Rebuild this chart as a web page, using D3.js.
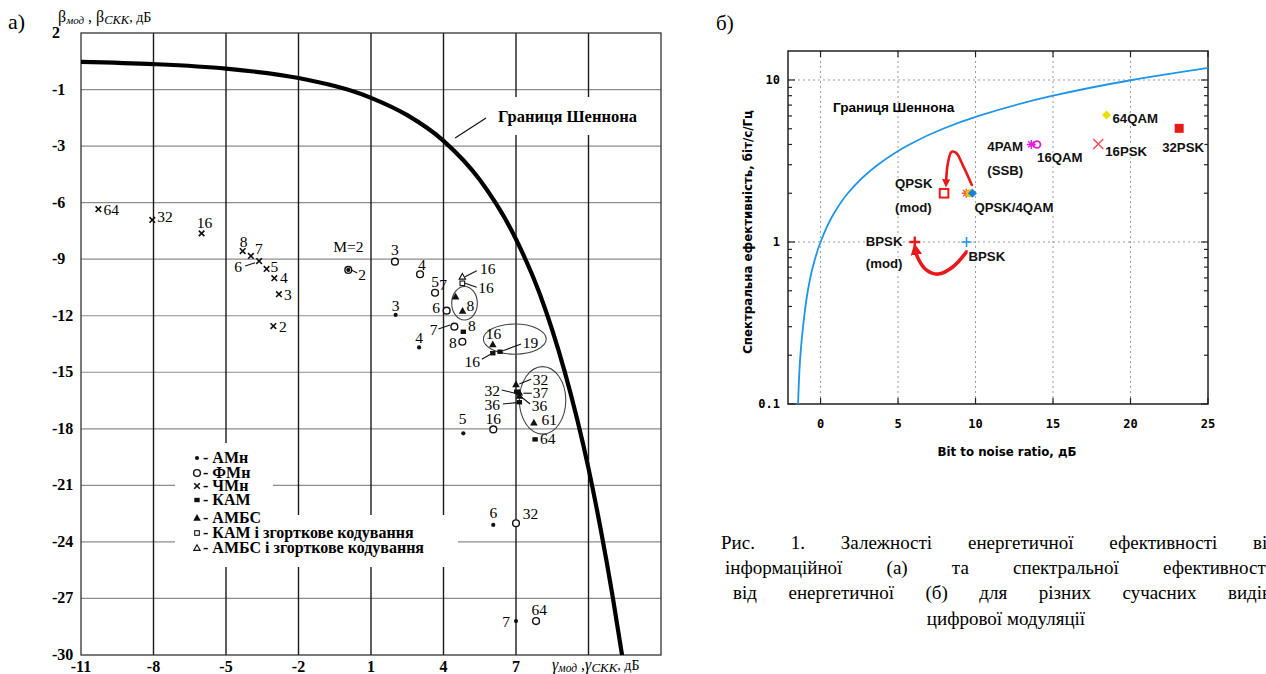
<!DOCTYPE html>
<html>
<head>
<meta charset="utf-8">
<script src="https://cdn.jsdelivr.net/npm/d3@7"></script>
<style>
  body { margin: 0; background: #fff; }
  svg { display: block; font-family: 'Liberation Serif', 'Times New Roman', serif; }
</style>
</head>
<body>
<svg id="chart" width="1266" height="674"></svg>
<script>
// ---------- data: chart а) ----------
const leftXTicks = [-11, -8, -5, -2, 1, 4, 7];
const leftXGrid = [-8, -5, -2, 1, 4, 7, 10];
const leftYTicks = [3, 0, -3, -6, -9, -12, -15, -18, -21, -24, -27, -30];
const leftYLabels = ['2', '-1', '-3', '-6', '-9', '-12', '-15', '-18', '-21', '-24', '-27', '-30'];

// Shannon bound (γ, β in dB)
const shannonGamma = [-11, -8, -5, -2, 1, 2.5, 4, 5.5, 7, 8, 9, 10, 10.5, 11, 11.4];
const shannonBeta = [1.47, 1.35, 1.11, 0.61, -0.44, -1.36, -2.72, -4.79, -7.94, -10.9, -14.9, -20.1, -23.3, -26.9, -30.1];

// АМн
const amnM = [2, 3, 4, 5, 6, 7];
const amnX = [0.06, 2.02, 2.99, 4.82, 6.06, 7.0];
const amnY = [-9.57, -11.96, -13.68, -18.24, -23.1, -28.2];
// ФМн
const fmnM = [2, 3, 4, 5, 6, 7, 8, 16, 32, 64];
const fmnX = [0.06, 1.99, 3.03, 3.65, 4.13, 4.45, 4.78, 6.06, 7.0, 7.83];
const fmnY = [-9.57, -9.13, -9.8, -10.78, -11.73, -12.58, -13.38, -18.03, -23.01, -28.2];
// ЧМн
const chmnM = [64, 32, 16, 8, 7, 6, 5, 4, 3, 2];
const chmnX = [-10.28, -8.05, -6.01, -4.31, -3.97, -3.63, -3.32, -3.0, -2.81, -3.04];
const chmnY = [-6.35, -6.92, -7.63, -8.57, -8.83, -9.1, -9.52, -10.01, -10.86, -12.55];
// КАМ
const kamM = [8, 16, 19, 32, 36, 64];
const kamX = [4.82, 6.04, 6.34, 7.03, 7.14, 7.79];
const kamY = [-12.85, -13.99, -13.91, -16.03, -16.59, -18.56];
// АМБС
const ambsM = [7, 8, 16, 32, 37, 36, 61];
const ambsX = [4.5, 4.79, 6.04, 7.0, 7.14, 7.14, 7.74];
const ambsY = [-10.99, -11.75, -13.52, -15.64, -16.08, -16.26, -17.68];
// КАМ і згорткове кодування
const kamConvM = [16];
const kamConvX = [4.78];
const kamConvY = [-10.28];
// АМБС і згорткове кодування
const ambsConvM = [16];
const ambsConvX = [4.78];
const ambsConvY = [-9.93];

const legendNames = ['АМн', 'ФМн', 'ЧМн', 'КАМ', 'АМБС', 'КАМ і згорткове кодування', 'АМБС і згорткове кодування'];

// ellipses grouping points (centre and half-axes in dB)
const ovalX = [4.87, 6.95, 8.1];
const ovalY = [-11.34, -13.24, -16.49];
const ovalRx = [0.53, 1.3, 0.96];
const ovalRy = [0.89, 0.8, 1.79];

// ---------- data: chart б) ----------
const rightXTicks = [0, 5, 10, 15, 20, 25];
const rightYTicks = [0.1, 1, 10];
const rightYLabels = ['0.1', '1', '10'];

// Shannon bound (Eb/N0 dB, bit/s/Hz)
const capEbN0 = [-1.45, -1.3, -1.13, -0.82, -0.5, 0, 0.86, 1.76, 3.7, 5.74, 7.9, 10.2, 15.0, 20.1, 25.3];
const capEff = [0.1, 0.2, 0.3, 0.5, 0.7, 1, 1.5, 2, 3, 4, 5, 6, 8, 10, 12];

const modNames = ['BPSK', 'BPSK (mod)', 'QPSK (mod)', 'QPSK', '4PSK', '4QAM', '4PAM (SSB)', '16QAM', '16PSK', '64QAM', '32PSK'];
const modEbN0 = [9.42, 6.08, 7.97, 9.4, 9.62, 9.8, 13.6, 13.97, 17.92, 18.45, 23.14];
const modEff = [1, 1, 2, 2, 2, 2, 4, 4, 4.03, 6.08, 5.03];

// red arrows (moving to the modified schemes)
const arrowQpskX = [9.76, 9.2, 8.75, 8.45, 8.2, 8.1];
const arrowQpskY = [2.25, 2.95, 3.55, 3.6, 3.0, 2.3];
const arrowBpskX = [9.42, 8.55, 7.59, 6.84, 6.28, 6.12];
const arrowBpskY = [0.87, 0.704, 0.634, 0.671, 0.797, 0.905];

const captionLines = [
  'Рис. 1. Залежності енергетичної ефективності від',
  'інформаційної (а) та спектральної ефективності',
  'від енергетичної (б) для різних сучасних видів',
  'цифрової модуляції'
];

// ---------- layout ----------
const svg = d3.select('#chart');
svg.append('rect').attr('width', 1266).attr('height', 674).attr('fill', '#fff');

const xL = d3.scaleLinear().domain([-11, 13]).range([81, 661]);
const yL = d3.scaleLinear().domain([-30, 3]).range([655, 33]);

const xR = d3.scaleLinear().domain([-2.1, 25]).range([788, 1208]);
const yR = d3.scaleLog().domain([0.1, 15.1]).range([404, 51]);

// label offsets in px for chart а): [dx, dy, anchor, leader x1, y1, x2, y2]
const labelSpots = {
  amn: [null, [0, -4, 'middle'], [0, -4, 'middle'], [-0.6, -9, 'middle'], [0, -6.7, 'middle'], [-6, 5.7, 'end']],
  fmn: [[10, 10, 'start', 3, 0, 9, 3], [0, -6.7, 'middle'], [1.7, -4.3, 'middle'], [0, -6, 'middle'], [-6.7, 2, 'end'],
        [-17, 8.3, 'end', -16, 2.3, -4.3, -1.7], [-5.6, 6.3, 'end'], [0, -5, 'middle'], [6.7, -4, 'start'], [3.3, -6, 'middle']],
  chmn: [[5, 5.7, 'start'], [5, 1.7, 'start'], [3, -5.3, 'middle'], [1, -4.3, 'middle'], [4, -2, 'start'],
         [-17, 11, 'end', -14, 5, -4, 1.7], [4, 2.7, 'start'], [5.7, 4.7, 'start'], [5, 5.7, 'start'], [5.7, 5.7, 'start']],
  kam: [[4.7, -0.7, 'start'], [-12.7, 13.4, 'end', -11, 6, -2.7, 1.2], [22.7, -4, 'start', 3, -1, 21, -7.7],
        [-16.7, 4.3, 'end', -15, -1.7, -1.7, 1.6], [-19.3, 7.5, 'end', -16.6, 1.7, -2.6, 0.4], [5, 5, 'start']],
  ambs: [[-8.7, -6.7, 'end'], [4, 0, 'start'], [0.6, -5.3, 'middle'], [16.7, 0.3, 'start', 3.3, -0.3, 15, -5],
         [13.4, 5.5, 'start', 4, 0.6, 12.4, 0.6], [12.4, 15, 'start', 0.7, 0, 10.7, 8], [7.7, 2.3, 'start']],
  kamConv: [[16, 10, 'start', 2.7, 0, 14.4, 4]],
  ambsConv: [[17.7, -2.4, 'start', 2.7, 0, 14.4, -6]]
};

function drawMarker(g, type) {
  switch (type) {
    case 'dot':
      g.append('circle').attr('r', 2.1).attr('fill', '#111');
      break;
    case 'ring':
      g.append('circle').attr('r', 3.4).attr('fill', '#fff').attr('stroke', '#111').attr('stroke-width', 1.4);
      break;
    case 'cross':
      g.append('path').attr('d', 'M-2.8,-2.8L2.8,2.8M-2.8,2.8L2.8,-2.8')
        .attr('stroke', '#111').attr('stroke-width', 1.6);
      break;
    case 'square':
      g.append('rect').attr('x', -2.7).attr('y', -2.2).attr('width', 5.4).attr('height', 4.4).attr('fill', '#111');
      break;
    case 'tri':
      g.append('path').attr('d', 'M0,-4L3.8,2.8L-3.8,2.8Z').attr('fill', '#111');
      break;
    case 'sqOpen':
      g.append('rect').attr('x', -2.3).attr('y', -2.3).attr('width', 4.6).attr('height', 4.6)
        .attr('fill', '#fff').attr('stroke', '#111').attr('stroke-width', 1.1);
      break;
    case 'triOpen':
      g.append('path').attr('d', 'M0,-3.3L3.2,2.4L-3.2,2.4Z')
        .attr('fill', '#fff').attr('stroke', '#111').attr('stroke-width', 1.1);
      break;
  }
}

// ================= chart а) =================
const left = svg.append('g');

// grid
left.selectAll('.hgrid').data(leftYTicks.slice(1, -1)).enter().append('line')
  .attr('x1', xL(-11)).attr('x2', xL(13))
  .attr('y1', d => yL(d)).attr('y2', d => yL(d))
  .attr('stroke', '#8c8c8c').attr('stroke-width', 1.2);

left.selectAll('.vgrid').data(leftXGrid).enter().append('line')
  .attr('x1', d => xL(d)).attr('x2', d => xL(d))
  .attr('y1', yL(3)).attr('y2', yL(-30))
  .attr('stroke', '#1a1a1a').attr('stroke-width', 1.4);

// white patches behind the text blocks
left.append('rect').attr('x', 490).attr('y', 97).attr('width', 155).attr('height', 38).attr('fill', '#fff');
left.append('rect').attr('x', 175).attr('y', 443).attr('width', 98).attr('height', 73).attr('fill', '#fff');
left.append('rect').attr('x', 175).attr('y', 515).attr('width', 283).attr('height', 52).attr('fill', '#fff');

left.append('rect')
  .attr('x', xL(-11)).attr('y', yL(3))
  .attr('width', xL(13) - xL(-11)).attr('height', yL(-30) - yL(3))
  .attr('fill', 'none').attr('stroke', '#333').attr('stroke-width', 1.3);

// tick labels
left.selectAll('.ylab').data(leftYTicks).enter().append('text')
  .attr('x', 52).attr('y', d => yL(d) + 5)
  .attr('font-size', 16).attr('font-weight', 'bold')
  .text((d, i) => leftYLabels[i]);

left.selectAll('.xlab').data(leftXTicks).enter().append('text')
  .attr('x', d => xL(d)).attr('y', 672)
  .attr('text-anchor', 'middle')
  .attr('font-size', 16).attr('font-weight', 'bold')
  .text(d => d);

// axis titles
const yTitle = left.append('text').attr('x', 58).attr('y', 22).attr('font-size', 16);
yTitle.append('tspan').text('β');
yTitle.append('tspan').attr('font-size', 11).attr('font-style', 'italic').attr('dy', 2).text('мод');
yTitle.append('tspan').attr('dy', -2).text(' , β');
yTitle.append('tspan').attr('font-size', 12.5).attr('font-style', 'italic').attr('dy', 2).text('СКК');
yTitle.append('tspan').attr('dy', -2).attr('font-size', 14).text(', дБ');

const xTitle = left.append('text').attr('x', 552).attr('y', 670).attr('font-size', 16);
xTitle.append('tspan').attr('font-style', 'italic').text('γ');
xTitle.append('tspan').attr('font-size', 11.5).attr('font-style', 'italic').attr('dy', 2).text('мод');
xTitle.append('tspan').attr('dy', -2).text(' ,');
xTitle.append('tspan').attr('font-style', 'italic').text('γ');
xTitle.append('tspan').attr('font-size', 13).attr('font-style', 'italic').attr('dy', 2).text('СКК');
xTitle.append('tspan').attr('dy', -2).attr('font-size', 14).text(', дБ');

left.append('text').attr('x', 8).attr('y', 29).attr('font-size', 22).text('а)');

// Shannon bound
left.append('clipPath').attr('id', 'clipL').append('rect')
  .attr('x', xL(-11)).attr('y', yL(3))
  .attr('width', xL(13) - xL(-11)).attr('height', yL(-30) - yL(3));

const lineL = d3.line()
  .x(d => xL(d[0]))
  .y(d => yL(d[1]))
  .curve(d3.curveMonotoneX);

left.append('path')
  .datum(d3.zip(shannonGamma, shannonBeta))
  .attr('d', lineL)
  .attr('clip-path', 'url(#clipL)')
  .attr('fill', 'none').attr('stroke', '#000').attr('stroke-width', 4.2);

left.append('line')
  .attr('x1', xL(4.48)).attr('y1', yL(-2.57))
  .attr('x2', xL(5.76)).attr('y2', yL(-1.51))
  .attr('stroke', '#111').attr('stroke-width', 1.2);

left.append('text')
  .attr('x', 498).attr('y', 122)
  .attr('font-size', 16.5).attr('font-weight', 'bold')
  .text('Границя Шеннона');

// group ellipses
left.selectAll('.oval').data(ovalX).enter().append('ellipse')
  .attr('cx', d => xL(d))
  .attr('cy', (d, i) => yL(ovalY[i]))
  .attr('rx', (d, i) => xL(d + ovalRx[i]) - xL(d))
  .attr('ry', (d, i) => yL(ovalY[i] - ovalRy[i]) - yL(ovalY[i]))
  .attr('fill', 'none').attr('stroke', '#444').attr('stroke-width', 1.1);

// point series
const seriesL = [
  { key: 'amn', type: 'dot', m: amnM, x: amnX, y: amnY },
  { key: 'fmn', type: 'ring', m: fmnM, x: fmnX, y: fmnY },
  { key: 'chmn', type: 'cross', m: chmnM, x: chmnX, y: chmnY },
  { key: 'kam', type: 'square', m: kamM, x: kamX, y: kamY },
  { key: 'ambs', type: 'tri', m: ambsM, x: ambsX, y: ambsY },
  { key: 'kamConv', type: 'sqOpen', m: kamConvM, x: kamConvX, y: kamConvY },
  { key: 'ambsConv', type: 'triOpen', m: ambsConvM, x: ambsConvX, y: ambsConvY }
];

// rings first so the filled marks sit on top
const drawOrder = ['fmn', 'amn', 'chmn', 'kam', 'ambs', 'kamConv', 'ambsConv'];
drawOrder.forEach(key => {
  const s = seriesL.find(d => d.key === key);
  s.m.forEach((m, i) => {
    const px = xL(s.x[i]);
    const py = yL(s.y[i]);
    const g = left.append('g').attr('transform', `translate(${px},${py})`);
    drawMarker(g, s.type);
    const spot = labelSpots[key][i];
    if (!spot) return;
    if (spot.length > 3) {
      left.append('line')
        .attr('x1', px + spot[3]).attr('y1', py + spot[4])
        .attr('x2', px + spot[5]).attr('y2', py + spot[6])
        .attr('stroke', '#111').attr('stroke-width', 1.1);
    }
    left.append('text')
      .attr('x', px + spot[0]).attr('y', py + spot[1])
      .attr('text-anchor', spot[2])
      .attr('font-size', 15.5)
      .text(m);
  });
});

left.append('text')
  .attr('x', xL(0.06)).attr('y', yL(-9.57) - 18)
  .attr('text-anchor', 'middle').attr('font-size', 15.5)
  .text('M=2');

// legend
const legendTypes = ['dot', 'ring', 'cross', 'square', 'tri', 'sqOpen', 'triOpen'];
const legendRowY = [458, 473, 486, 500, 518, 533, 548];
legendNames.forEach((name, i) => {
  const g = left.append('g').attr('transform', `translate(197,${legendRowY[i]})`);
  drawMarker(g, legendTypes[i]);
  left.append('text')
    .attr('x', 203).attr('y', legendRowY[i] + 5)
    .attr('font-size', 16).attr('font-weight', 'bold')
    .text('- ' + name);
});

// ================= chart б) =================
const right = svg.append('g')
  .style('font-family', "'Liberation Sans', Arial, sans-serif");

right.append('text')
  .attr('x', 716).attr('y', 30)
  .style('font-family', "'Liberation Serif', serif")
  .attr('font-size', 21).text('б)');

// dotted grid
right.selectAll('.vg').data(rightXTicks.slice(0, -1)).enter().append('line')
  .attr('x1', d => xR(d)).attr('x2', d => xR(d))
  .attr('y1', yR.range()[1]).attr('y2', yR.range()[0])
  .attr('stroke', '#9a9a9a').attr('stroke-width', 1).attr('stroke-dasharray', '2,3');

right.selectAll('.hg').data([1, 10]).enter().append('line')
  .attr('x1', xR.range()[0]).attr('x2', xR.range()[1])
  .attr('y1', d => yR(d)).attr('y2', d => yR(d))
  .attr('stroke', '#9a9a9a').attr('stroke-width', 1).attr('stroke-dasharray', '2,3');

// frame and ticks
right.append('rect')
  .attr('x', xR.range()[0]).attr('y', yR.range()[1])
  .attr('width', xR.range()[1] - xR.range()[0])
  .attr('height', yR.range()[0] - yR.range()[1])
  .attr('fill', 'none').attr('stroke', '#222').attr('stroke-width', 1.5);

const minorY = [0.2, 0.3, 0.4, 0.5, 0.6, 0.7, 0.8, 0.9, 2, 3, 4, 5, 6, 7, 8, 9];
const ticksY = rightYTicks.map(v => ({ v: v, len: 7 }))
  .concat(minorY.map(v => ({ v: v, len: 4 })));

[xR.range()[0], xR.range()[1]].forEach((edge, side) => {
  right.selectAll(null).data(ticksY).enter().append('line')
    .attr('x1', edge).attr('x2', d => edge + (side ? -d.len : d.len))
    .attr('y1', d => yR(d.v)).attr('y2', d => yR(d.v))
    .attr('stroke', '#222').attr('stroke-width', 1.2);
});

[yR.range()[0], yR.range()[1]].forEach((edge, side) => {
  right.selectAll(null).data(rightXTicks).enter().append('line')
    .attr('x1', d => xR(d)).attr('x2', d => xR(d))
    .attr('y1', edge).attr('y2', edge + (side ? 6 : -6))
    .attr('stroke', '#222').attr('stroke-width', 1.2);
});

right.selectAll('.xt').data(rightXTicks).enter().append('text')
  .attr('x', d => xR(d)).attr('y', 428)
  .attr('text-anchor', 'middle')
  .style('font-family', "'DejaVu Sans Mono', monospace")
  .attr('font-size', 12).attr('font-weight', 'bold')
  .text(d => d);

right.selectAll('.yt').data(rightYTicks).enter().append('text')
  .attr('x', 780).attr('y', d => yR(d) + 4)
  .attr('text-anchor', 'end')
  .style('font-family', "'DejaVu Sans Mono', monospace")
  .attr('font-size', 12).attr('font-weight', 'bold')
  .text((d, i) => rightYLabels[i]);

right.append('text')
  .attr('x', 1007).attr('y', 456)
  .attr('text-anchor', 'middle')
  .style('font-family', "'DejaVu Sans', Verdana, sans-serif")
  .attr('font-size', 11.8).attr('font-weight', 'bold')
  .text('Bit to noise ratio, дБ');

right.append('text')
  .attr('transform', 'translate(752,232) rotate(-90)')
  .attr('text-anchor', 'middle')
  .style('font-family', "'DejaVu Sans', Verdana, sans-serif")
  .attr('font-size', 11.8).attr('font-weight', 'bold')
  .text('Спектральна ефективність, біт/с/Гц');

// Shannon bound
right.append('clipPath').attr('id', 'clipR').append('rect')
  .attr('x', xR.range()[0]).attr('y', yR.range()[1])
  .attr('width', xR.range()[1] - xR.range()[0])
  .attr('height', yR.range()[0] - yR.range()[1]);

const lineR = d3.line()
  .x(d => xR(d[0]))
  .y(d => yR(d[1]))
  .curve(d3.curveMonotoneY);

right.append('path')
  .datum(d3.zip(capEbN0, capEff))
  .attr('d', lineR)
  .attr('clip-path', 'url(#clipR)')
  .attr('fill', 'none').attr('stroke', '#1d95e8').attr('stroke-width', 1.8);

// red arrows
svg.append('defs').append('marker')
  .attr('id', 'head')
  .attr('viewBox', '0 0 10 10')
  .attr('refX', 5).attr('refY', 5)
  .attr('markerWidth', 3.2).attr('markerHeight', 3.2)
  .attr('orient', 'auto')
  .append('path').attr('d', 'M0,0L10,5L0,10Z').attr('fill', '#e8191b');

const arrowLine = d3.line()
  .x(d => xR(d[0]))
  .y(d => yR(d[1]))
  .curve(d3.curveCatmullRom);

[[arrowQpskX, arrowQpskY, 2.6], [arrowBpskX, arrowBpskY, 3.6]].forEach(a => {
  right.append('path')
    .datum(d3.zip(a[0], a[1]))
    .attr('d', arrowLine)
    .attr('fill', 'none').attr('stroke', '#e8191b')
    .attr('stroke-width', a[2]).attr('stroke-linecap', 'round')
    .attr('marker-end', 'url(#head)');
});

// modulation points
const modStyle = {
  'BPSK': { shape: 'plus', color: '#1d95e8', r: 5, w: 1.6 },
  'BPSK (mod)': { shape: 'plus', color: '#e8191b', r: 5.5, w: 2.4 },
  'QPSK (mod)': { shape: 'square', color: '#e8191b', r: 4.3, w: 2 },
  'QPSK': { shape: 'star', color: '#f0503a', r: 4.5, w: 1.4 },
  '4PSK': { shape: 'disc', color: '#f2c200', r: 4 },
  '4QAM': { shape: 'diamond', color: '#1d7fe0', r: 4.5 },
  '4PAM (SSB)': { shape: 'star', color: '#e020e0', r: 4.5, w: 1.4 },
  '16QAM': { shape: 'ring', color: '#e020e0', r: 3.4, w: 1.8 },
  '16PSK': { shape: 'x', color: '#f04a4a', r: 5, w: 1.3 },
  '64QAM': { shape: 'diamond', color: '#e8e000', r: 4.5 },
  '32PSK': { shape: 'fill', color: '#e8191b', r: 4.5 }
};

modNames.forEach((name, i) => {
  const st = modStyle[name];
  const g = right.append('g').attr('transform', `translate(${xR(modEbN0[i])},${yR(modEff[i])})`);
  const r = st.r;
  if (st.shape === 'plus') {
    g.append('path').attr('d', `M${-r},0H${r}M0,${-r}V${r}`).attr('stroke', st.color).attr('stroke-width', st.w);
  } else if (st.shape === 'x') {
    g.append('path').attr('d', `M${-r},${-r}L${r},${r}M${-r},${r}L${r},${-r}`).attr('stroke', st.color).attr('stroke-width', st.w);
  } else if (st.shape === 'star') {
    g.append('path').attr('d', `M${-r},0H${r}M0,${-r}V${r}M${-r * 0.7},${-r * 0.7}L${r * 0.7},${r * 0.7}M${-r * 0.7},${r * 0.7}L${r * 0.7},${-r * 0.7}`)
      .attr('stroke', st.color).attr('stroke-width', st.w);
  } else if (st.shape === 'square') {
    g.append('rect').attr('x', -r).attr('y', -r).attr('width', 2 * r).attr('height', 2 * r)
      .attr('fill', 'none').attr('stroke', st.color).attr('stroke-width', st.w);
  } else if (st.shape === 'fill') {
    g.append('rect').attr('x', -r).attr('y', -r).attr('width', 2 * r).attr('height', 2 * r).attr('fill', st.color);
  } else if (st.shape === 'disc') {
    g.append('circle').attr('r', r).attr('fill', st.color);
  } else if (st.shape === 'ring') {
    g.append('circle').attr('r', r).attr('fill', 'none').attr('stroke', st.color).attr('stroke-width', st.w);
  } else if (st.shape === 'diamond') {
    g.append('path').attr('d', `M0,${-r}L${r},0L0,${r}L${-r},0Z`).attr('fill', st.color);
  }
});

// labels: [text, point name, dx, dy]
const modLabels = [
  ['64QAM', '64QAM', 6, 8],
  ['32PSK', '32PSK', -17, 24],
  ['16PSK', '16PSK', 7, 12],
  ['4PAM', '4PAM (SSB)', -44, 7],
  ['(SSB)', '4PAM (SSB)', -44, 31],
  ['16QAM', '16QAM', 0, 18],
  ['QPSK', 'QPSK (mod)', -49, -5],
  ['(mod)', 'QPSK (mod)', -49, 19],
  ['QPSK/4QAM', '4QAM', 2, 19],
  ['BPSK', 'BPSK', 2, 19],
  ['BPSK', 'BPSK (mod)', -49, 4],
  ['(mod)', 'BPSK (mod)', -49, 26]
];

modLabels.forEach(l => {
  const i = modNames.indexOf(l[1]);
  right.append('text')
    .attr('x', xR(modEbN0[i]) + l[2])
    .attr('y', yR(modEff[i]) + l[3])
    .attr('font-size', 13.2).attr('font-weight', 'bold')
    .attr('stroke', '#fff').attr('stroke-width', 3).attr('paint-order', 'stroke')
    .attr('fill', '#111')
    .text(l[0]);
});

right.append('text')
  .attr('x', xR(0.8)).attr('y', 112)
  .attr('font-size', 13.6).attr('font-weight', 'bold')
  .text('Границя Шеннона');

// caption: first lines run across the column (cut by the right edge), last line centred
const captionFrom = [721, 725, 733];
const captionTo = [1277, 1271, 1271];
svg.selectAll('.cap').data(captionLines).enter().append('text')
  .attr('y', (d, i) => 549 + i * 25.2)
  .attr('font-size', 19)
  .text(d => d)
  .each(function(d, i) {
    const t = d3.select(this);
    if (i >= captionFrom.length) {
      t.attr('x', 1006).attr('text-anchor', 'middle');
      return;
    }
    const natural = this.getComputedTextLength();
    const gaps = d.split(' ').length - 1;
    t.attr('x', captionFrom[i])
      .style('word-spacing', ((captionTo[i] - captionFrom[i] - natural) / gaps) + 'px');
  });
</script>
</body>
</html>
